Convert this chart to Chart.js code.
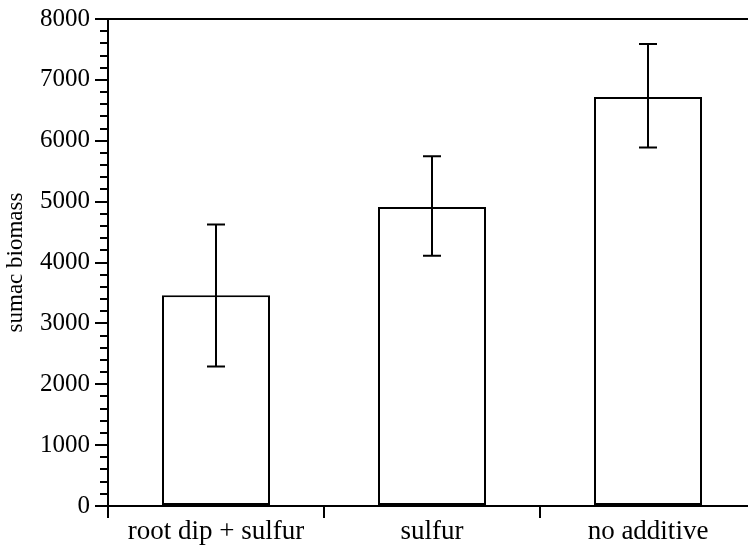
<!DOCTYPE html>
<html>
<head>
<meta charset="utf-8">
<script src="https://cdn.jsdelivr.net/npm/chart.js@4.4.1/dist/chart.umd.min.js"></script>
<style>
  html, body { margin: 0; padding: 0; background: #ffffff; overflow: hidden; }
  #wrap { width: 748px; height: 550px; overflow: hidden; }
</style>
</head>
<body>
<div id="wrap"><canvas id="c" width="760" height="550"></canvas></div>
<script>
// ---- data ----
const categories = ['root dip + sulfur', 'sulfur', 'no additive'];
const biomassMean = [3460, 4910, 6720];
const biomassUpper = [4625, 5745, 7590];
const biomassLower = [2290, 4110, 5890];
const yMin = 0;
const yMax = 8000;
const yMajorStep = 1000;
const yMinorStep = 200;
const yTitle = 'sumac biomass';

const FONT = "'Liberation Serif', 'Times New Roman', serif";

const bg = {
  id: 'bg',
  beforeDraw(chart) {
    const ctx = chart.ctx;
    ctx.save();
    ctx.fillStyle = '#ffffff';
    ctx.fillRect(0, 0, chart.width, chart.height);
    ctx.restore();
  }
};

const yTicks = {
  id: 'yTicks',
  afterDraw(chart) {
    const ys = chart.scales.y;
    const ctx = chart.ctx;
    const x0 = chart.chartArea.left;
    ctx.save();
    ctx.strokeStyle = '#000';
    ctx.lineWidth = 2;
    for (let v = yMin; v <= yMax; v += yMinorStep) {
      const y = Math.round(ys.getPixelForValue(v));
      const len = (v % yMajorStep === 0) ? 13 : 8;
      ctx.beginPath();
      ctx.moveTo(x0 - len, y);
      ctx.lineTo(x0, y);
      ctx.stroke();
    }
    ctx.restore();
  }
};

const errorBars = {
  id: 'errorBars',
  afterDatasetsDraw(chart) {
    const ys = chart.scales.y;
    const meta = chart.getDatasetMeta(0);
    const ctx = chart.ctx;
    ctx.save();
    ctx.strokeStyle = '#000';
    ctx.lineWidth = 2;
    meta.data.forEach((bar, i) => {
      const x = Math.round(bar.x);
      const yt = ys.getPixelForValue(biomassUpper[i]);
      const yb = ys.getPixelForValue(biomassLower[i]);
      const cap = 9;
      ctx.beginPath();
      ctx.moveTo(x, yt); ctx.lineTo(x, yb);
      ctx.moveTo(x - cap, yt); ctx.lineTo(x + cap, yt);
      ctx.moveTo(x - cap, yb); ctx.lineTo(x + cap, yb);
      ctx.stroke();
    });
    ctx.restore();
  }
};

new Chart(document.getElementById('c'), {
  type: 'bar',
  data: {
    labels: categories,
    datasets: [{
      data: biomassMean,
      backgroundColor: '#ffffff',
      borderColor: '#000000',
      borderWidth: 2,
      borderSkipped: false,
      barPercentage: 1.0,
      categoryPercentage: 0.5
    }]
  },
  options: {
    responsive: false,
    animation: false,
    layout: { padding: { top: 19, right: 4, bottom: 0, left: 0 } },
    plugins: {
      legend: { display: false },
      tooltip: { enabled: false }
    },
    scales: {
      x: {
        offset: true,
        grid: {
          offset: true,
          drawOnChartArea: false,
          drawTicks: true,
          tickLength: 12,
          tickColor: '#000',
          tickWidth: 2,
          color: '#000',
          lineWidth: 2
        },
        border: { display: true, color: '#000', width: 2 },
        ticks: {
          color: '#000',
          font: { family: FONT, size: 27 },
          padding: -2,
          maxRotation: 0,
          autoSkip: false
        },
        afterFit(scale) { scale.height = 44; }
      },
      y: {
        min: yMin,
        max: yMax,
        grid: {
          drawOnChartArea: true,
          drawTicks: true,
          tickLength: 18,
          tickColor: 'rgba(0,0,0,0)',
          color: (c) => (c.tick && c.tick.value === yMax) ? '#000' : 'rgba(0,0,0,0)',
          lineWidth: 2
        },
        border: { display: true, color: '#000', width: 2 },
        ticks: {
          stepSize: yMinorStep,
          color: '#000',
          font: { family: FONT, size: 25 },
          padding: 0,
          autoSkip: false,
          callback: (v) => (v % yMajorStep === 0) ? String(v) : ''
        },
        title: {
          display: true,
          text: yTitle,
          color: '#000',
          font: { family: FONT, size: 23 },
          padding: { top: 2, bottom: 0 }
        },
        afterFit(scale) { scale.width = 108; }
      }
    }
  },
  plugins: [bg, errorBars, yTicks]
});
</script>
</body>
</html>
